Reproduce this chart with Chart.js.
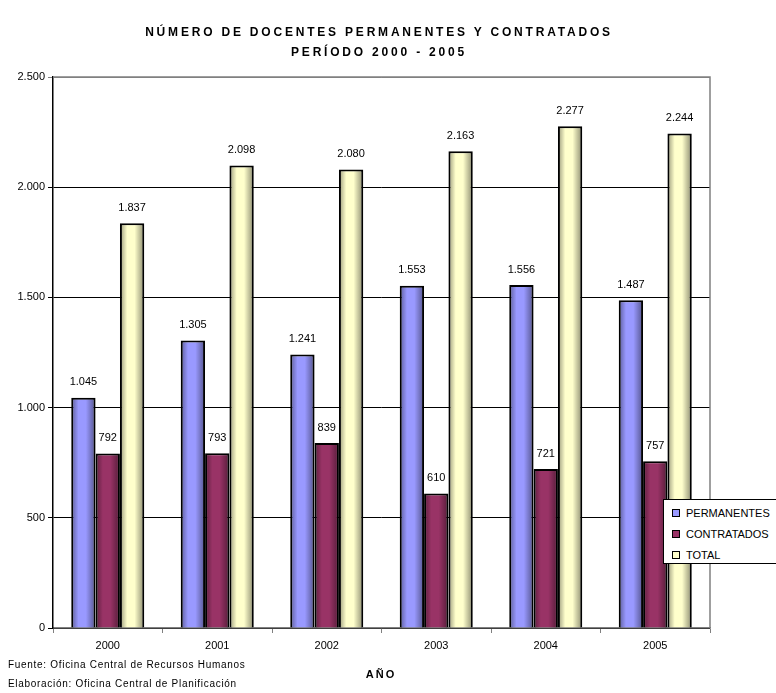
<!DOCTYPE html>
<html><head><meta charset="utf-8">
<script src="https://cdn.jsdelivr.net/npm/chart.js@4"></script>
<style>
html,body{margin:0;padding:0;background:#fff;}
#wrap{position:relative;width:776px;height:693px;font-family:"Liberation Sans",Arial,sans-serif;}
canvas{position:absolute;left:0;top:0;}
.t{position:absolute;left:-9px;width:776px;text-align:center;font-weight:bold;font-size:12px;letter-spacing:2.8px;color:#000;}
.foot{position:absolute;left:8px;font-size:10px;color:#000;letter-spacing:0.7px;}
#legend{position:absolute;left:663px;top:499px;width:120px;height:65px;border:1px solid #000;background:#fff;box-sizing:border-box;font-size:11px;}
#legend div{position:absolute;left:8px;height:14px;line-height:14px;}
#legend span{display:inline-block;width:6px;height:6px;border:1.5px solid #000;margin-right:6px;vertical-align:0px;}
</style></head>
<body><div id="wrap">
<canvas id="c" width="776" height="693"></canvas>
<div class="t" style="top:25px">NÚMERO DE DOCENTES PERMANENTES Y CONTRATADOS</div>
<div class="t" style="top:45px">PERÍODO 2000 - 2005</div>
<div class="t" style="top:668px;font-size:11px;letter-spacing:2px;left:-7px;">AÑO</div>
<div class="foot" style="top:659px">Fuente: Oficina Central de Recursos Humanos</div>
<div class="foot" style="top:678px">Elaboración: Oficina Central de Planificación</div>
<div id="legend"></div>
</div>
<script>
const categories = ['2000','2001','2002','2003','2004','2005'];
const permanentes = [1045,1305,1241,1553,1556,1487];
const contratados = [792,793,839,610,721,757];
const total = [1837,2098,2080,2163,2277,2244];
const seriesNames = ['PERMANENTES','CONTRATADOS','TOTAL'];
const seriesColors = ['#9999FF','#993366','#FFFFCC'];
const yTicks = [0,500,1000,1500,2000,2500];

function fmt(v){return String(v).replace(/\B(?=(\d{3})+(?!\d))/g,'.');}

const leg = document.getElementById('legend');
seriesNames.forEach((n,i)=>{
  const d=document.createElement('div');
  d.style.top=(6+i*21)+'px';
  d.innerHTML='<span style="background:'+seriesColors[i]+'"></span>'+n;
  leg.appendChild(d);
});

const decor = {
  id:'decor',
  afterDatasetsDraw(chart){
    const ctx=chart.ctx;
    chart.data.datasets.forEach((ds,di)=>{
      const meta=chart.getDatasetMeta(di);
      meta.data.forEach((el,j)=>{
        const l=el.x-el.width/2, r=el.x+el.width/2;
        const top=el.y, bot=el.base;
        const g=ctx.createLinearGradient(l,0,r,0);
        g.addColorStop(0,'rgba(0,0,0,0.4)');
        g.addColorStop(0.3,'rgba(0,0,0,0.0)');
        g.addColorStop(0.6,'rgba(0,0,0,0.0)');
        g.addColorStop(1,'rgba(0,0,0,0.45)');
        ctx.save();
        ctx.fillStyle=g;
        ctx.fillRect(l+1.5,top+1.5,el.width-3,bot-top-1.5);
        ctx.restore();
        ctx.save();
        ctx.font='11px "Liberation Sans", Arial, sans-serif';
        ctx.fillStyle='#000';ctx.textAlign='center';ctx.textBaseline='bottom';
        ctx.fillText(fmt(ds.data[j]),el.x,top-10);
        ctx.restore();
      });
    });
    const a=chart.chartArea;
    ctx.save();
    ctx.strokeStyle='#808080';ctx.lineWidth=1.5;
    ctx.beginPath();ctx.moveTo(a.left,a.top);ctx.lineTo(a.right,a.top);ctx.lineTo(a.right,a.bottom);ctx.stroke();
    ctx.restore();
  }
};

new Chart(document.getElementById('c'),{
  type:'bar',
  data:{labels:categories,datasets:[
    {label:seriesNames[0],data:permanentes,backgroundColor:seriesColors[0]},
    {label:seriesNames[1],data:contratados,backgroundColor:seriesColors[1]},
    {label:seriesNames[2],data:total,backgroundColor:seriesColors[2]}
  ].map(d=>Object.assign(d,{borderColor:'#000',borderWidth:2,categoryPercentage:0.667,barPercentage:1.0}))},
  options:{
    responsive:false,animation:false,
    layout:{padding:{top:77,left:0,right:66,bottom:0}},
    plugins:{legend:{display:false},title:{display:false},tooltip:{enabled:false}},
    scales:{
      x:{
        grid:{offset:true,drawOnChartArea:false,tickLength:5,color:'#808080'},
        border:{color:'#808080',width:1.5},
        ticks:{color:'#000',font:{family:'"Liberation Sans", Arial, sans-serif',size:11},padding:6},
        afterFit(s){s.height=65;}
      },
      y:{
        min:0,max:2500,
        afterBuildTicks(s){s.ticks=yTicks.map(v=>({value:v}));},
        grid:{color:(c)=>c.tick&&c.tick.value===2500?'#808080':'#000',tickLength:5,lineWidth:1},
        border:{color:'#000',width:1.5},
        ticks:{color:'#000',font:{family:'"Liberation Sans", Arial, sans-serif',size:11},padding:3,callback:(v)=>fmt(v)},
        afterFit(s){s.width=53;}
      }
    }
  },
  plugins:[decor]
});
</script>
</body></html>
